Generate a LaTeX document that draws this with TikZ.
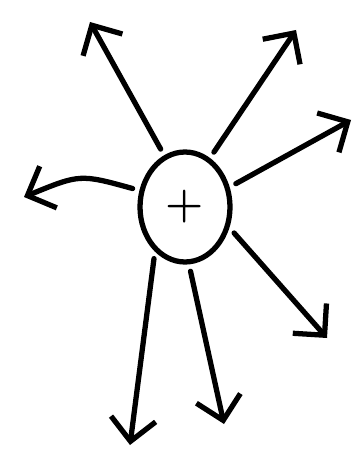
\documentclass[tikz,border=0pt]{standalone}
\usepackage{amsmath}
\usetikzlibrary{arrows.meta,shapes.geometric}

\begin{document}
\begin{tikzpicture}[x=0.02cm, y=-0.02cm,
  hub/.style={ellipse, draw, line width=3pt, minimum width=1.8cm,
    minimum height=2.2cm, inner sep=0pt, font=\Huge\bfseries},
  arr/.style={-{Straight Barb[length=4.5mm,width=9mm]}, line width=3pt,
    line cap=round, shorten <=4pt},
]
\useasboundingbox (0,0) rectangle (356,452);

% centre
\node[hub] (hub) at (185,207) {+};

% free ends of the rays
\coordinate (upleft) at (90,22);
\coordinate (upright) at (296,30);
\coordinate (right) at (351,120);
\coordinate (left) at (24,197);
\coordinate (downright) at (327,338);
\coordinate (downmid) at (224,424);
\coordinate (downleft) at (130,445);

% rays
\draw[arr] (hub.112) -- (upleft);
\draw[arr] (hub.63) -- (upright);
\draw[arr] (hub.24) -- (right);
\draw[arr] (hub.160) .. controls (80,174) .. (left);
\draw[arr] (hub.-25) -- (downright);
\draw[arr] (hub.-86) -- (downmid);
\draw[arr] (hub.-124) -- (downleft);
\end{tikzpicture}
\end{document}
